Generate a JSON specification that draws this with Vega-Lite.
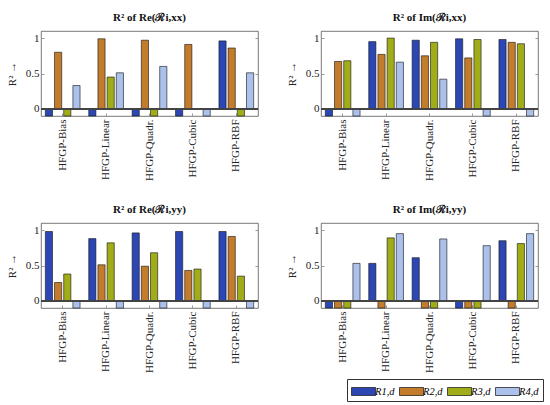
{
  "$schema": "https://vega.github.io/schema/vega-lite/v6.json",
  "padding": {"left": 5, "top": 11, "right": 5, "bottom": 5},
  "config": {
    "font": "Liberation Serif",
    "view": {"stroke": "#555", "strokeWidth": 0.8},
    "axis": {
      "domain": false, "grid": false,
      "labelFont": "Liberation Serif", "labelFontSize": 11, "labelColor": "#222",
      "tickColor": "#999", "tickSize": -3,
      "titleFont": "Liberation Serif", "titleFontWeight": "normal", "titleFontSize": 11, "titleColor": "#222"
    }
  },
  "data": {
    "values": [
      {"panel": "R² of Re(ℛi,xx)", "model": "HFGP-Bias", "series": "R1,d", "r2": -0.1},
      {"panel": "R² of Re(ℛi,xx)", "model": "HFGP-Bias", "series": "R2,d", "r2": 0.80},
      {"panel": "R² of Re(ℛi,xx)", "model": "HFGP-Bias", "series": "R3,d", "r2": -0.1},
      {"panel": "R² of Re(ℛi,xx)", "model": "HFGP-Bias", "series": "R4,d", "r2": 0.33},
      {"panel": "R² of Re(ℛi,xx)", "model": "HFGP-Linear", "series": "R1,d", "r2": -0.1},
      {"panel": "R² of Re(ℛi,xx)", "model": "HFGP-Linear", "series": "R2,d", "r2": 0.99},
      {"panel": "R² of Re(ℛi,xx)", "model": "HFGP-Linear", "series": "R3,d", "r2": 0.45},
      {"panel": "R² of Re(ℛi,xx)", "model": "HFGP-Linear", "series": "R4,d", "r2": 0.51},
      {"panel": "R² of Re(ℛi,xx)", "model": "HFGP-Quadr.", "series": "R1,d", "r2": -0.1},
      {"panel": "R² of Re(ℛi,xx)", "model": "HFGP-Quadr.", "series": "R2,d", "r2": 0.97},
      {"panel": "R² of Re(ℛi,xx)", "model": "HFGP-Quadr.", "series": "R3,d", "r2": -0.1},
      {"panel": "R² of Re(ℛi,xx)", "model": "HFGP-Quadr.", "series": "R4,d", "r2": 0.60},
      {"panel": "R² of Re(ℛi,xx)", "model": "HFGP-Cubic", "series": "R1,d", "r2": -0.1},
      {"panel": "R² of Re(ℛi,xx)", "model": "HFGP-Cubic", "series": "R2,d", "r2": 0.91},
      {"panel": "R² of Re(ℛi,xx)", "model": "HFGP-Cubic", "series": "R3,d", "r2": 0.005},
      {"panel": "R² of Re(ℛi,xx)", "model": "HFGP-Cubic", "series": "R4,d", "r2": -0.1},
      {"panel": "R² of Re(ℛi,xx)", "model": "HFGP-RBF", "series": "R1,d", "r2": 0.96},
      {"panel": "R² of Re(ℛi,xx)", "model": "HFGP-RBF", "series": "R2,d", "r2": 0.86},
      {"panel": "R² of Re(ℛi,xx)", "model": "HFGP-RBF", "series": "R3,d", "r2": -0.1},
      {"panel": "R² of Re(ℛi,xx)", "model": "HFGP-RBF", "series": "R4,d", "r2": 0.51},

      {"panel": "R² of Im(ℛi,xx)", "model": "HFGP-Bias", "series": "R1,d", "r2": -0.1},
      {"panel": "R² of Im(ℛi,xx)", "model": "HFGP-Bias", "series": "R2,d", "r2": 0.67},
      {"panel": "R² of Im(ℛi,xx)", "model": "HFGP-Bias", "series": "R3,d", "r2": 0.68},
      {"panel": "R² of Im(ℛi,xx)", "model": "HFGP-Bias", "series": "R4,d", "r2": -0.1},
      {"panel": "R² of Im(ℛi,xx)", "model": "HFGP-Linear", "series": "R1,d", "r2": 0.95},
      {"panel": "R² of Im(ℛi,xx)", "model": "HFGP-Linear", "series": "R2,d", "r2": 0.77},
      {"panel": "R² of Im(ℛi,xx)", "model": "HFGP-Linear", "series": "R3,d", "r2": 1.0},
      {"panel": "R² of Im(ℛi,xx)", "model": "HFGP-Linear", "series": "R4,d", "r2": 0.66},
      {"panel": "R² of Im(ℛi,xx)", "model": "HFGP-Quadr.", "series": "R1,d", "r2": 0.97},
      {"panel": "R² of Im(ℛi,xx)", "model": "HFGP-Quadr.", "series": "R2,d", "r2": 0.75},
      {"panel": "R² of Im(ℛi,xx)", "model": "HFGP-Quadr.", "series": "R3,d", "r2": 0.94},
      {"panel": "R² of Im(ℛi,xx)", "model": "HFGP-Quadr.", "series": "R4,d", "r2": 0.42},
      {"panel": "R² of Im(ℛi,xx)", "model": "HFGP-Cubic", "series": "R1,d", "r2": 0.99},
      {"panel": "R² of Im(ℛi,xx)", "model": "HFGP-Cubic", "series": "R2,d", "r2": 0.72},
      {"panel": "R² of Im(ℛi,xx)", "model": "HFGP-Cubic", "series": "R3,d", "r2": 0.98},
      {"panel": "R² of Im(ℛi,xx)", "model": "HFGP-Cubic", "series": "R4,d", "r2": -0.1},
      {"panel": "R² of Im(ℛi,xx)", "model": "HFGP-RBF", "series": "R1,d", "r2": 0.98},
      {"panel": "R² of Im(ℛi,xx)", "model": "HFGP-RBF", "series": "R2,d", "r2": 0.94},
      {"panel": "R² of Im(ℛi,xx)", "model": "HFGP-RBF", "series": "R3,d", "r2": 0.92},
      {"panel": "R² of Im(ℛi,xx)", "model": "HFGP-RBF", "series": "R4,d", "r2": -0.1},

      {"panel": "R² of Re(ℛi,yy)", "model": "HFGP-Bias", "series": "R1,d", "r2": 0.98},
      {"panel": "R² of Re(ℛi,yy)", "model": "HFGP-Bias", "series": "R2,d", "r2": 0.26},
      {"panel": "R² of Re(ℛi,yy)", "model": "HFGP-Bias", "series": "R3,d", "r2": 0.38},
      {"panel": "R² of Re(ℛi,yy)", "model": "HFGP-Bias", "series": "R4,d", "r2": -0.1},
      {"panel": "R² of Re(ℛi,yy)", "model": "HFGP-Linear", "series": "R1,d", "r2": 0.88},
      {"panel": "R² of Re(ℛi,yy)", "model": "HFGP-Linear", "series": "R2,d", "r2": 0.51},
      {"panel": "R² of Re(ℛi,yy)", "model": "HFGP-Linear", "series": "R3,d", "r2": 0.82},
      {"panel": "R² of Re(ℛi,yy)", "model": "HFGP-Linear", "series": "R4,d", "r2": -0.1},
      {"panel": "R² of Re(ℛi,yy)", "model": "HFGP-Quadr.", "series": "R1,d", "r2": 0.96},
      {"panel": "R² of Re(ℛi,yy)", "model": "HFGP-Quadr.", "series": "R2,d", "r2": 0.49},
      {"panel": "R² of Re(ℛi,yy)", "model": "HFGP-Quadr.", "series": "R3,d", "r2": 0.68},
      {"panel": "R² of Re(ℛi,yy)", "model": "HFGP-Quadr.", "series": "R4,d", "r2": -0.1},
      {"panel": "R² of Re(ℛi,yy)", "model": "HFGP-Cubic", "series": "R1,d", "r2": 0.98},
      {"panel": "R² of Re(ℛi,yy)", "model": "HFGP-Cubic", "series": "R2,d", "r2": 0.43},
      {"panel": "R² of Re(ℛi,yy)", "model": "HFGP-Cubic", "series": "R3,d", "r2": 0.45},
      {"panel": "R² of Re(ℛi,yy)", "model": "HFGP-Cubic", "series": "R4,d", "r2": -0.1},
      {"panel": "R² of Re(ℛi,yy)", "model": "HFGP-RBF", "series": "R1,d", "r2": 0.98},
      {"panel": "R² of Re(ℛi,yy)", "model": "HFGP-RBF", "series": "R2,d", "r2": 0.91},
      {"panel": "R² of Re(ℛi,yy)", "model": "HFGP-RBF", "series": "R3,d", "r2": 0.35},
      {"panel": "R² of Re(ℛi,yy)", "model": "HFGP-RBF", "series": "R4,d", "r2": -0.1},

      {"panel": "R² of Im(ℛi,yy)", "model": "HFGP-Bias", "series": "R1,d", "r2": -0.1},
      {"panel": "R² of Im(ℛi,yy)", "model": "HFGP-Bias", "series": "R2,d", "r2": -0.1},
      {"panel": "R² of Im(ℛi,yy)", "model": "HFGP-Bias", "series": "R3,d", "r2": -0.1},
      {"panel": "R² of Im(ℛi,yy)", "model": "HFGP-Bias", "series": "R4,d", "r2": 0.53},
      {"panel": "R² of Im(ℛi,yy)", "model": "HFGP-Linear", "series": "R1,d", "r2": 0.53},
      {"panel": "R² of Im(ℛi,yy)", "model": "HFGP-Linear", "series": "R2,d", "r2": -0.1},
      {"panel": "R² of Im(ℛi,yy)", "model": "HFGP-Linear", "series": "R3,d", "r2": 0.89},
      {"panel": "R² of Im(ℛi,yy)", "model": "HFGP-Linear", "series": "R4,d", "r2": 0.95},
      {"panel": "R² of Im(ℛi,yy)", "model": "HFGP-Quadr.", "series": "R1,d", "r2": 0.61},
      {"panel": "R² of Im(ℛi,yy)", "model": "HFGP-Quadr.", "series": "R2,d", "r2": -0.1},
      {"panel": "R² of Im(ℛi,yy)", "model": "HFGP-Quadr.", "series": "R3,d", "r2": -0.1},
      {"panel": "R² of Im(ℛi,yy)", "model": "HFGP-Quadr.", "series": "R4,d", "r2": 0.875},
      {"panel": "R² of Im(ℛi,yy)", "model": "HFGP-Cubic", "series": "R1,d", "r2": -0.1},
      {"panel": "R² of Im(ℛi,yy)", "model": "HFGP-Cubic", "series": "R2,d", "r2": -0.1},
      {"panel": "R² of Im(ℛi,yy)", "model": "HFGP-Cubic", "series": "R3,d", "r2": -0.1},
      {"panel": "R² of Im(ℛi,yy)", "model": "HFGP-Cubic", "series": "R4,d", "r2": 0.78},
      {"panel": "R² of Im(ℛi,yy)", "model": "HFGP-RBF", "series": "R1,d", "r2": 0.85},
      {"panel": "R² of Im(ℛi,yy)", "model": "HFGP-RBF", "series": "R2,d", "r2": -0.1},
      {"panel": "R² of Im(ℛi,yy)", "model": "HFGP-RBF", "series": "R3,d", "r2": 0.81},
      {"panel": "R² of Im(ℛi,yy)", "model": "HFGP-RBF", "series": "R4,d", "r2": 0.95}
    ]
  },
  "facet": {
    "field": "panel",
    "type": "nominal",
    "sort": ["R² of Re(ℛi,xx)", "R² of Im(ℛi,xx)", "R² of Re(ℛi,yy)", "R² of Im(ℛi,yy)"],
    "header": {"title": null, "labelFont": "Liberation Serif", "labelFontSize": 11, "labelFontWeight": "bold", "labelColor": "#111", "labelPadding": 8}
  },
  "columns": 2,
  "spacing": {"row": 22, "column": 26},
  "resolve": {"axis": {"x": "independent", "y": "independent"}},
  "spec": {
    "width": 217,
    "height": 85,
    "layer": [
      {
        "mark": {"type": "bar", "stroke": "#111", "strokeWidth": 0.6},
        "encoding": {
          "x": {
            "field": "model", "type": "nominal",
            "sort": ["HFGP-Bias", "HFGP-Linear", "HFGP-Quadr.", "HFGP-Cubic", "HFGP-RBF"],
            "scale": {"paddingInner": 0.2, "paddingOuter": 0.1},
            "axis": {"title": null, "labelAngle": -90, "labelPadding": 6, "labelFontSize": 11}
          },
          "xOffset": {
            "field": "series",
            "scale": {"paddingInner": 0.22}
          },
          "y": {
            "field": "r2", "type": "quantitative",
            "scale": {"domain": [-0.1, 1.1], "nice": false, "zero": false},
            "axis": {"title": "R² →", "titleAngle": -90, "values": [0, 0.5, 1], "format": "~g", "labelPadding": 5, "titlePadding": 8}
          },
          "color": {
            "field": "series", "type": "nominal",
            "scale": {
              "domain": ["R1,d", "R2,d", "R3,d", "R4,d"],
              "range": ["#2c47b4", "#c27c2c", "#a0ac18", "#abc0ea"]
            },
            "legend": {
              "orient": "none", "legendX": 306, "legendY": 348,
              "direction": "horizontal", "columns": 4, "title": null,
              "strokeColor": "#333", "padding": 4,
              "symbolType": "M-1.5,-0.5H1.5V0.5H-1.5Z", "symbolSize": 256,
              "symbolStrokeColor": "#111", "symbolStrokeWidth": 0.7,
              "labelFont": "Liberation Serif", "labelFontStyle": "italic", "labelFontSize": 10.5,
              "labelOffset": 3, "columnPadding": 3, "symbolOffset": 4
            }
          }
        }
      },
      {
        "mark": {"type": "rule", "color": "#444", "strokeWidth": 0.8},
        "encoding": {
          "y": {"datum": 0, "type": "quantitative", "axis": {"orient": "right", "labels": false, "title": null, "values": [0, 0.5, 1]}}
        }
      }
    ],
    "resolve": {"axis": {"y": "independent"}}
  }
}
